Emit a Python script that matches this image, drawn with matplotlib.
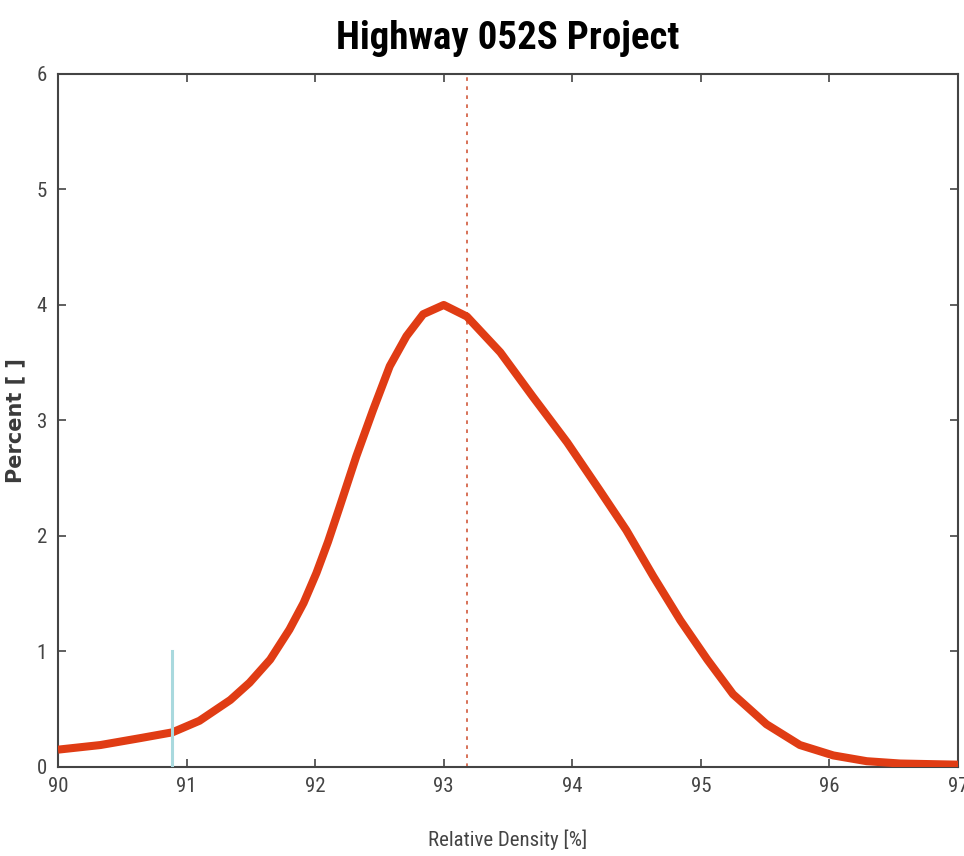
import numpy as np
import matplotlib
matplotlib.use('Agg')
from matplotlib import pyplot as plt
from matplotlib import font_manager

# density curve (relative density vs percent)
density = [90.0, 90.33, 90.64, 90.89, 91.10, 91.34, 91.49, 91.65, 91.80, 91.91,
           92.01, 92.10, 92.19, 92.32, 92.45, 92.58, 92.71, 92.84, 93.0, 93.18,
           93.44, 93.69, 93.96, 94.21, 94.42, 94.63, 94.84, 95.05, 95.25, 95.51,
           95.77, 96.03, 96.29, 96.55, 97.0]
percent = [0.15, 0.19, 0.25, 0.30, 0.40, 0.58, 0.73, 0.93, 1.19, 1.42,
           1.68, 1.95, 2.25, 2.69, 3.09, 3.47, 3.73, 3.92, 4.00, 3.90,
           3.59, 3.21, 2.81, 2.40, 2.05, 1.65, 1.27, 0.93, 0.63, 0.37,
           0.19, 0.10, 0.05, 0.03, 0.02]

mean_line = 93.18
spec_x = 90.89
spec_top = 1.0

x_ticks = [90, 91, 92, 93, 94, 95, 96, 97]
y_ticks = [0, 1, 2, 3, 4, 5, 6]

# narrow sans for the labels, first one that is installed
installed = {f.name for f in font_manager.fontManager.ttflist}
narrow = ['Liberation Sans']
for cand in ['Liberation Sans Narrow', 'Arial Narrow', 'Roboto Condensed',
             'Open Sans Condensed', 'DejaVu Sans Condensed']:
    if cand in installed:
        narrow = [cand, 'Liberation Sans']
        break

fig = plt.figure(figsize=(9.64, 8.56), dpi=100)
ax = fig.add_axes([0.0602, 0.104, 0.9336, 0.8096])

ax.plot(density, percent, color='#e03c14', lw=5.8, solid_capstyle='butt',
        solid_joinstyle='round', zorder=3)
ax.plot([mean_line, mean_line], [0, 6], color='#d4664a', lw=1.3, ls=(0, (2, 3)), zorder=2)
ax.plot([spec_x, spec_x], [0, spec_top], color='#a9d9de', lw=2.2, zorder=4)

ax.set_xlim(90, 97)
ax.set_ylim(0, 6)
ax.set_xticks(x_ticks)
ax.set_yticks(y_ticks)
ax.set_xticklabels([str(t) for t in x_ticks], family=narrow, fontsize=15, color='#4a4a4a')
ax.set_yticklabels([str(t) for t in y_ticks], family=narrow, fontsize=15, color='#4a4a4a')
ax.tick_params(direction='in', length=6, width=1.2, top=True, right=True, colors='#444444')
ax.tick_params(axis='x', pad=7)
ax.tick_params(axis='y', pad=8)

for s in ax.spines.values():
    s.set_color('#444444')
    s.set_linewidth(1.5)

fig.text(0.527, 0.955, 'Highway 052S Project', family=narrow, fontsize=28,
         fontweight='bold', ha='center', va='center')
ax.set_xlabel('Relative Density [%]', family=narrow, fontsize=15, color='#444444')
ax.xaxis.set_label_coords(0.5, -0.09)
ax.set_ylabel('Percent [ ]', family='DejaVu Sans', fontsize=15, fontweight='bold', color='#3a3a3a')
ax.yaxis.set_label_coords(-0.036, 0.5)

fig.savefig('out.png', dpi=100)
